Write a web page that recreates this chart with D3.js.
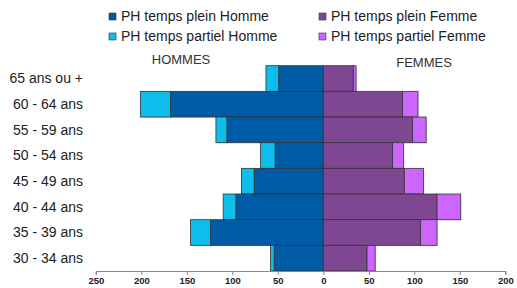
<!DOCTYPE html>
<html><head><meta charset="utf-8">
<script src="https://cdn.jsdelivr.net/npm/d3@7"></script>
<style>body{margin:0;background:#fff}svg{display:block;font-family:"Liberation Sans",Arial,sans-serif}</style>
</head><body><svg id="c" width="517" height="288"></svg>
<script>
const categories = ["65 ans ou +","60 - 64 ans","55 - 59 ans","50 - 54 ans","45 - 49 ans","40 - 44 ans","35 - 39 ans","30 - 34 ans"];
const hommePlein   = [49,168,106,53,76,96,124,54];
const hommePartiel = [14,33,12,16,14,14,22,4];
const femmePlein   = [33,87,98,76,89,125,107,48];
const femmePartiel = [3,17,15,12,21,26,18,9];
const tickValues = [-250,-200,-150,-100,-50,0,50,100,150,200];
const seriesNames = ["PH temps plein Homme","PH temps partiel Homme","PH temps plein Femme","PH temps partiel Femme"];
const colors = ["#005BA6","#0DBDEB","#7F4692","#CC66FF"];

const svg = d3.select("#c");
const x = d3.scaleLinear().domain([-250,200]).range([95.8,505.3]);
const y = d3.scaleBand().domain(categories).range([65.7,271]).padding(0);

const rows = categories.map((c,i)=>({c,hp:hommePlein[i],ht:hommePartiel[i],fp:femmePlein[i],ft:femmePartiel[i]}));
const segs = [];
rows.forEach(r=>{
  segs.push({c:r.c,x0:-r.hp,x1:0,col:colors[0]});
  segs.push({c:r.c,x0:-(r.hp+r.ht),x1:-r.hp,col:colors[1]});
  segs.push({c:r.c,x0:0,x1:r.fp,col:colors[2]});
  segs.push({c:r.c,x0:r.fp,x1:r.fp+r.ft,col:colors[3]});
});
svg.append("g").selectAll("rect").data(segs).join("rect")
  .attr("x",d=>x(d.x0)+1).attr("y",d=>y(d.c)+1)
  .attr("width",d=>x(d.x1)-x(d.x0)).attr("height",y.bandwidth())
  .attr("fill","#ccc").attr("opacity",0.5);
svg.append("g").selectAll("rect").data(segs).join("rect")
  .attr("x",d=>x(d.x0)).attr("y",d=>y(d.c))
  .attr("width",d=>x(d.x1)-x(d.x0)).attr("height",y.bandwidth())
  .attr("fill",d=>d.col).attr("stroke","#333").attr("stroke-width",0.8);

const ax = svg.append("g").attr("transform","translate(0,271)")
  .call(d3.axisBottom(x).tickValues(tickValues).tickSize(4).tickFormat(d=>Math.abs(d)));
ax.select(".domain").attr("stroke","#888");
ax.selectAll(".tick line").attr("stroke","#888");
ax.selectAll(".tick text").attr("font-size","9.5px").attr("font-weight","bold").attr("fill","#222")
  .attr("font-family","'Liberation Sans',Arial,sans-serif").attr("y",5).attr("dy","0.85em");

svg.append("g").selectAll("text").data(categories).join("text")
  .attr("x",83).attr("y",d=>y(d)+y.bandwidth()/2).attr("dy","0.35em")
  .attr("text-anchor","end").attr("font-size","14px").attr("fill","#222").text(d=>d);

svg.append("text").attr("x",181).attr("y",63.5).attr("text-anchor","middle").attr("font-size","13px").attr("fill","#333").text("HOMMES");
svg.append("text").attr("x",424).attr("y",66.5).attr("text-anchor","middle").attr("font-size","13px").attr("fill","#333").text("FEMMES");

const leg = [{n:seriesNames[0],c:colors[0],x:109,y:16.5},{n:seriesNames[1],c:colors[1],x:109,y:36.5},
             {n:seriesNames[2],c:colors[2],x:319,y:16.5},{n:seriesNames[3],c:colors[3],x:319,y:36.5}];
const lg = svg.append("g").selectAll("g").data(leg).join("g").attr("transform",d=>`translate(${d.x},${d.y})`);
lg.append("rect").attr("x",0).attr("y",-3.5).attr("width",7).attr("height",7).attr("fill",d=>d.c).attr("stroke","#333").attr("stroke-width",0.6);
lg.append("text").attr("x",12).attr("dy","0.35em").attr("font-size","14px").attr("fill","#222").text(d=>d.n);
</script></body></html>
